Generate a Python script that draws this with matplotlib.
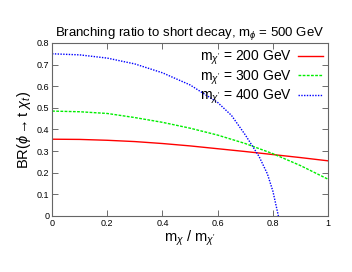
import matplotlib
matplotlib.use('Agg')
import matplotlib.pyplot as plt

plt.rcParams['font.family'] = ['Liberation Sans', 'DejaVu Sans']
plt.rcParams['mathtext.fontset'] = 'custom'
plt.rcParams['mathtext.rm'] = 'Liberation Sans'
plt.rcParams['mathtext.it'] = 'Liberation Sans:italic'

x_red = [0.0, 0.1, 0.2, 0.3, 0.4, 0.5, 0.6, 0.7, 0.8, 0.9, 1.0]
br_200 = [0.355, 0.354, 0.350, 0.344, 0.335, 0.324, 0.311, 0.298, 0.284, 0.270, 0.255]

x_green = [0.0, 0.1, 0.2, 0.3, 0.4, 0.5, 0.6, 0.7, 0.8, 0.9, 1.0]
br_300 = [0.485, 0.482, 0.474, 0.455, 0.433, 0.406, 0.374, 0.335, 0.288, 0.233, 0.170]

x_blue = [0.0, 0.1, 0.2, 0.3, 0.4, 0.5, 0.6, 0.65, 0.7, 0.75, 0.78, 0.8, 0.82]
br_400 = [0.750, 0.745, 0.730, 0.703, 0.662, 0.606, 0.525, 0.465, 0.375, 0.275, 0.195, 0.115, 0.0]

labels = ["m$_{\\chi'}$ = 200 GeV", "m$_{\\chi'}$ = 300 GeV", "m$_{\\chi'}$ = 400 GeV"]

fig = plt.figure(figsize=(3.52, 2.72), dpi=100)
ax = fig.add_axes([0.148, 0.206, 0.784, 0.636])

ax.plot(x_red, br_200, color='#ff0000', lw=1.0, label=labels[0])
ax.plot(x_green, br_300, color='#00ee00', lw=1.0, ls=(0, (2, 1)), label=labels[1])
ax.plot(x_blue, br_400, color='#0000ff', lw=1.0, ls=(0, (1, 1)), label=labels[2])

ax.set_xlim(0, 1)
ax.set_ylim(0, 0.8)
ax.set_xticks([0, 0.2, 0.4, 0.6, 0.8, 1])
ax.set_xticklabels(['0', '0.2', '0.4', '0.6', '0.8', '1'])
ax.set_yticks([0, 0.1, 0.2, 0.3, 0.4, 0.5, 0.6, 0.7, 0.8])
ax.set_yticklabels(['0', '0.1', '0.2', '0.3', '0.4', '0.5', '0.6', '0.7', '0.8'])
ax.tick_params(direction='in', top=True, right=True, labelsize=6.5, length=4, width=0.6, color='#555555', pad=2)
for s in ax.spines.values():
    s.set_color('#666666')
    s.set_linewidth(0.8)

ax.set_title("Branching ratio to short decay, m$_\\phi$ = 500 GeV", fontsize=9.5, pad=5)
ax.set_xlabel("m$_\\chi$ / m$_{\\chi'}$", fontsize=10.5, labelpad=1)
ax.set_ylabel("BR($\\phi\\rightarrow$t $\\chi_t$)", fontsize=10.5, labelpad=3)

ax.legend(loc='upper right', frameon=False, markerfirst=False, fontsize=10,
          handlelength=1.8, handletextpad=0.4, labelspacing=0.1, borderaxespad=0.0)

fig.savefig('out.png', dpi=100)
